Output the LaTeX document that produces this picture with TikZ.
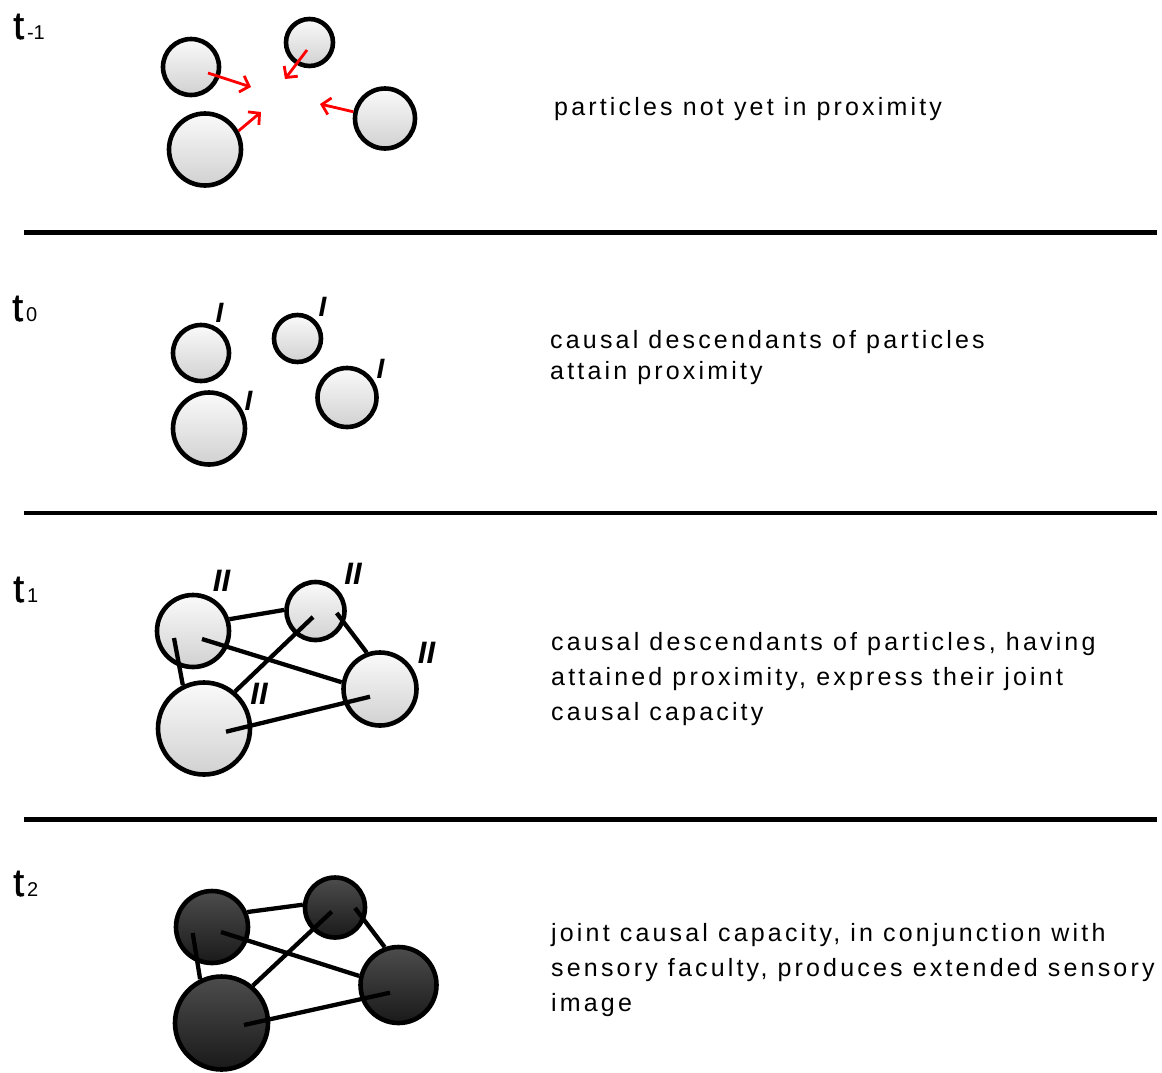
\documentclass[tikz,border=0pt]{standalone}
\usepackage{fontspec}
\setmainfont{Liberation Sans}
\newfontfamily\spaced[LetterSpace=12.7]{Liberation Sans}
\newfontfamily\tfont[FakeBold=1.4]{Liberation Sans}
\usetikzlibrary{arrows.meta}
\begin{document}
\begin{tikzpicture}[x=1pt,y=-1pt,
  light/.style={circle,draw=black,line width=4.6pt,inner sep=0pt,top color=black!2,bottom color=black!18},
  dark/.style={circle,draw=black,line width=4.6pt,inner sep=0pt,top color=black!70,bottom color=black!90},
  link/.style={line width=4.3pt},
  push/.style={draw=red,line width=2.8pt,-{Straight Barb[length=8pt,width=17pt]}},
  sep/.style={line width=4.5pt},
  desc/.style={anchor=base west,inner sep=0pt,font=\spaced\fontsize{25}{30}\selectfont},
  tlabel/.style={anchor=base west,inner sep=0pt},
  markone/.style={inner sep=0pt,font=\bfseries\itshape\fontsize{28}{28}\selectfont},
  marktwo/.style={inner sep=0pt,font=\bfseries\itshape\fontsize{31}{31}\selectfont}
]
\useasboundingbox[fill=white] (0,0) rectangle (1162,1072);

% ---------- labels ----------
\node[tlabel] (lm1) at (13,39) {{\tfont\fontsize{39}{39}\selectfont t}\hspace{3pt}{\fontsize{20}{20}\selectfont -1}};
\node[tlabel] (l0) at (12,321) {{\tfont\fontsize{39}{39}\selectfont t}\hspace{3pt}{\fontsize{20}{20}\selectfont 0}};
\node[tlabel] (l1) at (13,602) {{\tfont\fontsize{39}{39}\selectfont t}\hspace{3pt}{\fontsize{20}{20}\selectfont 1}};
\node[tlabel] (l2) at (13,896) {{\tfont\fontsize{39}{39}\selectfont t}\hspace{3pt}{\fontsize{20}{20}\selectfont 2}};

% ---------- separators ----------
\draw[sep] (24,232.5) -- (1157,232.5);
\draw[sep] (24,513) -- (1157,513);
\draw[sep] (24,819.5) -- (1157,819.5);

% ---------- t-1 ----------
\node[light,minimum size=56pt] (c1) at (191,67) {};
\node[light,minimum size=47pt] (c2) at (309.5,42.5) {};
\node[light,minimum size=60pt] (c3) at (385,118.5) {};
\node[light,minimum size=72pt] (c4) at (205,149.5) {};
\coordinate (a1s) at (208,73);
\coordinate (a1e) at (251,87);
\coordinate (a2s) at (307,50);
\coordinate (a2e) at (285,79);
\coordinate (a3e) at (320,104);
\coordinate (a4e) at (261,112);
\draw[push] (a1s) -- (a1e);
\draw[push] (a2s) -- (a2e);
\draw[push] (c3.168) -- (a3e);
\draw[push] (c4.29) -- (a4e);
\node[desc] (txm1) at (554,115) {particles not yet in proximity};

% ---------- t0 ----------
\node[light,minimum size=56pt] (d1) at (201,353) {};
\node[light,minimum size=47pt] (d2) at (297.5,338.5) {};
\node[light,minimum size=59pt] (d3) at (347,397.5) {};
\node[light,minimum size=72pt] (d4) at (209,428.5) {};
\node[markone] (m1) at (219.5,312.5) {I};
\node[markone] (m2) at (322.5,307) {I};
\node[markone] (m3) at (380.5,369) {I};
\node[markone] (m4) at (248.5,400.5) {I};
\node[desc] (tx0a) at (550,348) {causal descendants of particles};
\node[desc] (tx0b) at (550,379) {attain proximity};

% ---------- t1 ----------
\node[light,minimum size=72pt] (p1) at (193,631) {};
\node[light,minimum size=58pt] (p2) at (315.5,611) {};
\node[light,minimum size=73pt] (p3) at (380,689) {};
\node[light,minimum size=92pt] (p4) at (204,728.5) {};
\coordinate (p1a) at (202,639);
\coordinate (p1b) at (174,638);
\coordinate (p2a) at (313,617);
\coordinate (p2b) at (336.7,613);
\coordinate (p4a) at (226,731.7);
\coordinate (p3a) at (370,696.7);
\draw[link] (p1.18) -- (p2.178);
\draw[link] (p1a) -- (p3.170);
\draw[link] (p1b) -- (p4.116);
\draw[link] (p2a) -- (p4.50);
\draw[link] (p2b) -- (p3.110);
\draw[link] (p4a) -- (p3a);
\node[marktwo] (n1) at (221.5,581) {II};
\node[marktwo] (n2) at (353,573.5) {II};
\node[marktwo] (n3) at (426.5,652.5) {II};
\node[marktwo] (n4) at (259,693.5) {II};
\node[desc] (tx1a) at (551,650) {causal descendants of particles, having};
\node[desc] (tx1b) at (551,685) {attained proximity, express their joint};
\node[desc] (tx1c) at (551,720) {causal capacity};

% ---------- t2 ----------
\node[dark,minimum size=72pt] (q1) at (212,927) {};
\node[dark,minimum size=60pt] (q2) at (335,907.5) {};
\node[dark,minimum size=76pt] (q3) at (398.5,985) {};
\node[dark,minimum size=93pt] (q4) at (221.5,1023) {};
\coordinate (q1a) at (221,932);
\coordinate (q1b) at (192.7,933);
\coordinate (q2a) at (331.7,911.7);
\coordinate (q2b) at (355,908);
\coordinate (q4a) at (244,1025);
\coordinate (q3a) at (390,992.7);
\draw[link] (q1.23) -- (q2.175);
\draw[link] (q1a) -- (q3.167);
\draw[link] (q1b) -- (q4.116);
\draw[link] (q2a) -- (q4.50);
\draw[link] (q2b) -- (q3.110);
\draw[link] (q4a) -- (q3a);
\node[desc] (tx2a) at (551,941) {joint causal capacity, in conjunction with};
\node[desc] (tx2b) at (551,976) {sensory faculty, produces extended sensory};
\node[desc] (tx2c) at (551,1011) {image};
\end{tikzpicture}
\end{document}
